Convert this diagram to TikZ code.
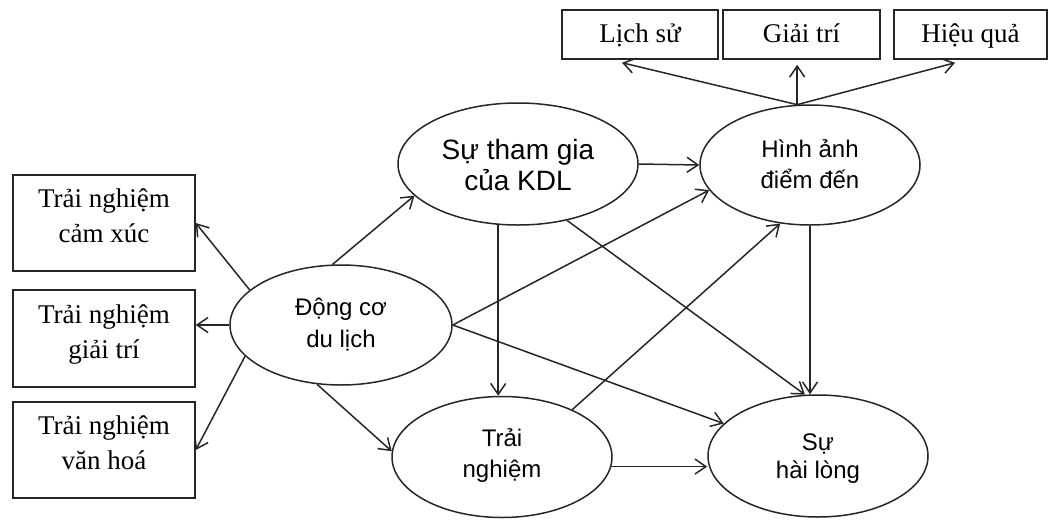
\documentclass[tikz,border=0pt]{standalone}
\usepackage{fontspec}
\setmainfont{Liberation Serif}
\setsansfont{Liberation Sans}
\usetikzlibrary{shapes.geometric,arrows.meta,calc}
\begin{document}
\begin{tikzpicture}[x=1pt,y=-1pt,
  box/.style={draw=black!85, line width=1.5pt, rectangle, inner sep=0pt, align=center, font=\fontsize{27}{35}\selectfont},
  topbox/.style={box, minimum height=49pt, text height=22pt, text depth=6pt},
  sidebox/.style={box, minimum width=182pt, text height=45pt, text depth=6pt},
  oval/.style={draw=black!85, line width=1.5pt, ellipse, inner sep=0pt, align=center, font=\sffamily\fontsize{24}{31}\selectfont, text depth=6pt},
  arr/.style={draw=black!85, line width=1.5pt, -{Straight Barb[length=11pt,width=15pt]}}
]
\useasboundingbox (0,0) rectangle (1052,520);
% top boxes
\node[topbox, minimum width=156pt] (ls) at (640,34.5) {Lịch sử};
\node[topbox, minimum width=157pt] (gt) at (801.5,34.5) {Giải trí};
\node[topbox, minimum width=153pt] (hq) at (970.5,34.5) {Hiệu quả};
% left boxes
\node[sidebox, minimum height=96pt] (cx) at (104,223) {Trải nghiệm\\cảm xúc};
\node[sidebox, minimum height=97pt] (gtr) at (104,338.5) {Trải nghiệm\\giải trí};
\node[sidebox, minimum height=96pt] (vh) at (104,450) {Trải nghiệm\\văn hoá};
% ellipses
\node[oval, minimum width=222pt, minimum height=120pt, font=\sffamily\fontsize{24}{32}\selectfont, text height=50pt] (dc) at (341,325) {Động cơ\\du lịch};
\node[oval, minimum width=240pt, minimum height=122pt, font=\sffamily\fontsize{28}{31}\selectfont, text height=58pt] (tg) at (518,164) {Sự tham gia\\của KDL};
\node[oval, minimum width=220pt, minimum height=120pt, text height=52pt] (ha) at (810,165) {Hình ảnh\\điểm đến};
\node[oval, minimum width=220pt, minimum height=121pt, text height=47pt] (tn) at (502,457) {Trải\\nghiệm};
\node[oval, minimum width=220pt, minimum height=122pt, font=\sffamily\fontsize{24}{28}\selectfont, text height=50pt] (hl) at (818,456) {Sự\\hài lòng};
% arrows to top boxes
\coordinate (hp) at (ha.102);
\draw[arr] (hp) -- ($(ls.south)+(-18,3)$);
\draw[arr] (hp) -- ($(hp |- gt.south)+(0,5)$);
\draw[arr] (hp) -- ($(hq.south)+(-15.5,3)$);
% arrows to left boxes
\draw[arr] (dc.159) -- (cx.east);
\draw[arr] (dc.west) -- (dc.west -| gtr.east);
\draw[arr] (dc.198) -- (vh.east);
% model arrows
\draw[arr] (dc.98) -- (tg.197);
\draw[arr] (dc.248) -- (tn.177);
\draw[arr] (dc.east) -- (ha.194);
\draw[arr] (dc.east) -- (hl.161);
\draw[arr] (tg.east) -- (ha.west);
\draw[arr] (tg.252) -- (tg.252 |- tn.north);
\draw[arr] (tg.311) -- (hl.102);
\draw[arr] (ha.south) -- (ha.south |- hl.north);
\draw[arr] (tn.34) -- (ha.243);
\draw[arr] (tn.355) -- (tn.355 -| hl.west);
\end{tikzpicture}
\end{document}
